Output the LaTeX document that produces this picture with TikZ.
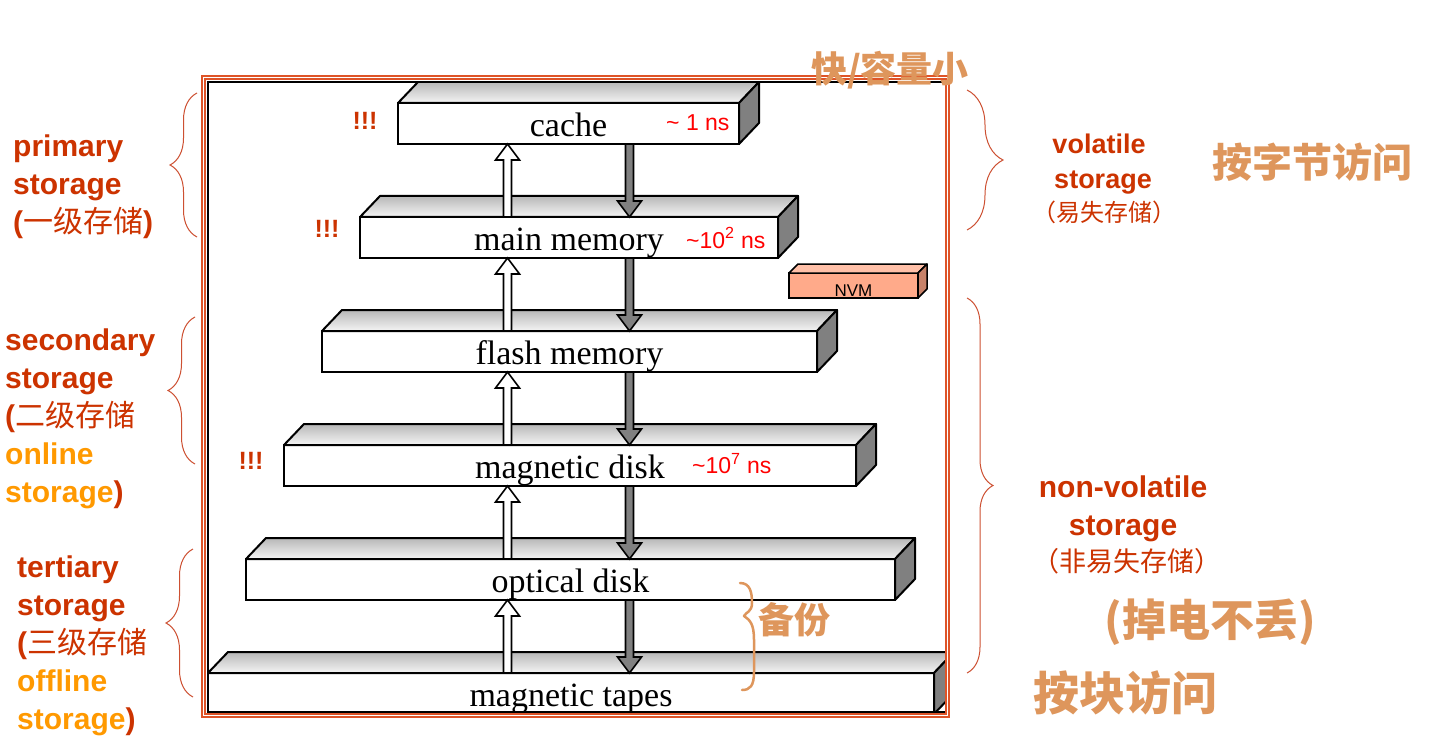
\documentclass[tikz,border=0pt]{standalone}
\usepackage{fontspec}
\newfontfamily\arial{Liberation Sans}
\newfontfamily\serifx{Liberation Serif}
\newfontfamily\cjk{Noto Sans CJK SC}
\usetikzlibrary{decorations.pathreplacing}
\definecolor{lblred}{RGB}{204,51,0}
\definecolor{lblorange}{RGB}{255,153,0}
\definecolor{framecol}{RGB}{222,84,40}
\definecolor{bracecol}{RGB}{205,80,50}
\definecolor{hwcol}{RGB}{222,150,92}
\definecolor{nvmfill}{RGB}{255,170,138}
\definecolor{nvmtop}{RGB}{255,192,168}
\definecolor{nvmside}{RGB}{200,130,105}
\definecolor{sidegray}{RGB}{128,128,128}
\tikzset{
  slabfront/.style={draw=black, fill=white, line width=2pt, minimum height=41pt,
    inner sep=0pt, outer sep=0pt, font=\serifx\fontsize{34}{40}\selectfont,
    text height=32pt, text depth=6pt},
  topface/.style={draw=black, line width=2pt, line join=round, top color=black!28, bottom color=black!4},
  sideface/.style={draw=black, line width=2pt, line join=round, fill=sidegray},
  uparr/.style={draw=black, line width=1.6pt, fill=white, line join=miter},
  downarr/.style={draw=black, line width=1.6pt, fill=sidegray, line join=miter},
  timelbl/.style={inner sep=0pt, anchor=west, text=red, font=\arial\fontsize{23}{27}\selectfont},
  bang/.style={inner sep=0pt, text=lblred, font=\arial\bfseries\fontsize{25}{28}\selectfont},
  lbl/.style={inner sep=0pt, anchor=base west, text=lblred, font=\arial\bfseries\fontsize{30}{38}\selectfont},
  rlbl/.style={inner sep=0pt, anchor=base, text=lblred, font=\arial\bfseries\fontsize{27}{34}\selectfont},
  rlblb/.style={inner sep=0pt, anchor=base, text=lblred, font=\arial\bfseries\fontsize{30}{36}\selectfont},
  bracestyle/.style={draw=bracecol, line width=1pt, decorate},
  hw/.style={inner sep=0pt, text=hwcol},
  nvmbox/.style={draw=black, line width=1.5pt, fill=nvmfill, minimum width=129pt, minimum height=25pt,
    inner sep=0pt, outer sep=0pt, font=\arial\fontsize{17}{19}\selectfont, text height=21pt, text depth=0pt}
}
\newcommand\mkslab[5]{%
  \node[slabfront, minimum width=#4pt] (#1) at (#2,#3) {#5};
  \filldraw[topface] (#1.north west) -- ++(20,-21) -- ([shift={(20,-21)}]#1.north east) -- (#1.north east) -- cycle;
  \filldraw[sideface] (#1.north east) -- ++(20,-21) -- ++(0,41) -- (#1.south east) -- cycle;
}
\newcommand\arrUp[3]{%
  \coordinate (ax) at (#1,0);
  \coordinate (aT) at (#2.north -| ax);
  \coordinate (aH) at (#3.south -| ax);
  \filldraw[uparr] ([shift={(-4,0)}]aT) -- ([shift={(-4,16)}]aH) -- ([shift={(-12,16)}]aH) -- (aH)
     -- ([shift={(12,16)}]aH) -- ([shift={(4,16)}]aH) -- ([shift={(4,0)}]aT) -- cycle;
}
\newcommand\arrDown[3]{%
  \coordinate (ax) at (#1,0);
  \coordinate (aT) at (#2.south -| ax);
  \coordinate (aH) at (#3.north -| ax);
  \filldraw[downarr] ([shift={(-4,0)}]aT) -- ([shift={(-4,-16)}]aH) -- ([shift={(-12,-16)}]aH) -- (aH)
     -- ([shift={(12,-16)}]aH) -- ([shift={(4,-16)}]aH) -- ([shift={(4,0)}]aT) -- cycle;
}
\begin{document}
\begin{tikzpicture}[x=1pt, y=-1pt]
\useasboundingbox (0,0) rectangle (1432,754);
\fill[white] (0,0) rectangle (1432,754);

% slabs
\begin{scope}
\clip (208,82) rectangle (945.5,712);
\mkslab{tapes}{571}{693.5}{726}{magnetic tapes}
\mkslab{optical}{570.5}{579.5}{649}{optical disk}
\mkslab{disk}{570}{465.5}{572}{magnetic disk}
\mkslab{flash}{569.5}{351.5}{495}{flash memory}
\mkslab{mm}{569}{237.5}{418}{main memory}
\mkslab{cache}{568.5}{123.5}{341}{cache}
\end{scope}

% arrows
\arrUp{507.5}{mm}{cache}
\arrUp{507.5}{flash}{mm}
\arrUp{507.5}{disk}{flash}
\arrUp{507.5}{optical}{disk}
\arrUp{507.5}{tapes}{optical}
\arrDown{629.5}{cache}{mm}
\arrDown{629.5}{mm}{flash}
\arrDown{629.5}{flash}{disk}
\arrDown{629.5}{disk}{optical}
\arrDown{629.5}{optical}{tapes}

% frame
\draw[black, line width=2pt] (945.5,82) -- (208,82) -- (208,712) -- (945.5,712);
\draw[framecol, line width=1.5pt] (202,76) rectangle (949,717);
\draw[framecol, line width=1.5pt] (205,79) rectangle (946,714);

% NVM
\node[nvmbox] (nvm) at (853.5,285.5) {NVM};
\filldraw[draw=black, line width=1.5pt, fill=nvmtop, line join=round] (nvm.north west) -- ++(9,-9) -- ([shift={(9,-9)}]nvm.north east) -- (nvm.north east) -- cycle;
\filldraw[draw=black, line width=1.5pt, fill=nvmside, line join=round] (nvm.north east) -- ++(9,-9) -- ++(0,25) -- (nvm.south east) -- cycle;

% times
\node[timelbl] (t1) at (666,123) {\textasciitilde{} 1 ns};
\node[timelbl] (t2) at (686,238) {\textasciitilde10\textsuperscript{2} ns};
\node[timelbl] (t3) at (692,464) {\textasciitilde10\textsuperscript{7} ns};

% bangs
\node[bang] (b1) at (365,121) {!!!};
\node[bang] (b2) at (327,229) {!!!};
\node[bang] (b3) at (251,461) {!!!};

% left labels
\node[lbl] (p1) at (13,157) {primary};
\node[lbl] (p2) at (13,195) {storage};
\node[lbl] (p3) at (13,233) {({\cjk\mdseries 一级存储})};
\node[lbl] (s1) at (5,350) {secondary};
\node[lbl] (s2) at (5,388) {storage};
\node[lbl] (s3) at (5,426) {({\cjk\mdseries 二级存储}};
\node[lbl] (s4) at (5,464) {\textcolor{lblorange}{online}};
\node[lbl] (s5) at (5,502) {\textcolor{lblorange}{storage})};
\node[lbl] (r1) at (17,577) {tertiary};
\node[lbl] (r2) at (17,615) {storage};
\node[lbl] (r3) at (17,653) {({\cjk\mdseries 三级存储}};
\node[lbl] (r4) at (17,691) {\textcolor{lblorange}{offline}};
\node[lbl] (r5) at (17,729) {\textcolor{lblorange}{storage})};

% left braces
\draw[bracestyle, decoration={brace, amplitude=27pt}] (197,237) -- (197,93);
\draw[bracestyle, decoration={brace, amplitude=27pt}] (195,464) -- (195,317);
\draw[bracestyle, decoration={brace, amplitude=27pt}] (193,697) -- (193,549);

% right braces
\draw[bracestyle, decoration={brace, amplitude=36pt}] (967,90) -- (967,230);
\draw[bracestyle, decoration={brace, amplitude=26pt}] (967,298) -- (967,673);

% right labels
\node[rlbl] (v1) at (1099,154) {volatile};
\node[rlbl] (v2) at (1103,189) {storage};
\node[rlbl, font=\cjk\fontsize{24}{28}\selectfont] (v3) at (1104,222) {（易失存储）};
\node[rlblb] (n1) at (1123,497) {non-volatile};
\node[rlblb] (n2) at (1123,535) {storage};
\node[rlblb, font=\cjk\fontsize{27}{30}\selectfont] (n3) at (1127,571) {（非易失存储）};

% handwriting
\node[hw, font=\cjk\bfseries\fontsize{36}{40}\selectfont] (h1) at (890,70) {快/容量小};
\node[hw, font=\cjk\bfseries\fontsize{40}{44}\selectfont] (h2) at (1312,162) {按字节访问};
\node[hw, font=\cjk\bfseries\fontsize{44}{48}\selectfont] (h3) at (1210,622) {(掉电不丢)};
\node[hw, font=\cjk\bfseries\fontsize{46}{50}\selectfont] (h4) at (1125,693) {按块访问};
\node[hw, font=\cjk\bfseries\fontsize{36}{40}\selectfont] (h5) at (794,620) {备份};
\draw[hwcol, line width=2.5pt, line cap=round, line join=round]
  (740,583) .. controls (750,583) and (752,592) .. (752,603)
  .. controls (752,612) and (746,612) .. (744,616)
  .. controls (750,620) and (754,624) .. (754,640)
  -- (754,672) .. controls (754,686) and (750,690) .. (742,690);
\end{tikzpicture}
\end{document}
